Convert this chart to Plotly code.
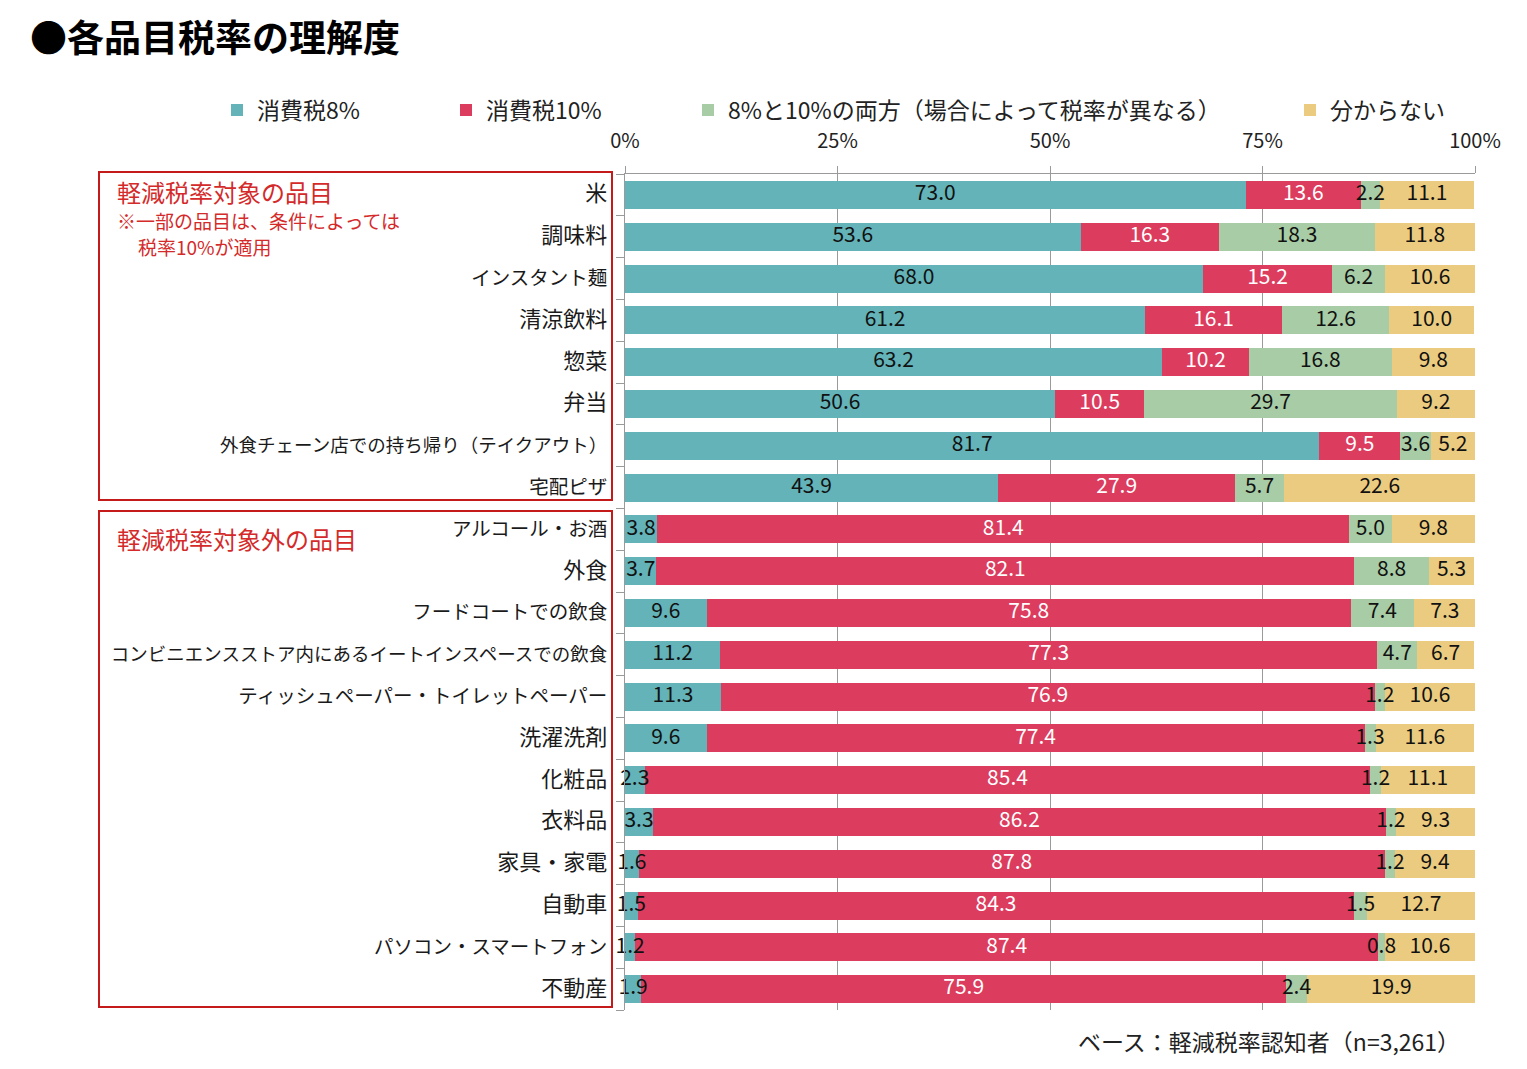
import plotly.graph_objects as go

categories = [
    "米", "調味料", "インスタント麺", "清涼飲料", "惣菜", "弁当",
    "外食チェーン店での持ち帰り（テイクアウト）", "宅配ピザ",
    "アルコール・お酒", "外食", "フードコートでの飲食",
    "コンビニエンスストア内にあるイートインスペースでの飲食",
    "ティッシュペーパー・トイレットペーパー", "洗濯洗剤", "化粧品", "衣料品",
    "家具・家電", "自動車", "パソコン・スマートフォン", "不動産",
]
tax8 = [73.0, 53.6, 68.0, 61.2, 63.2, 50.6, 81.7, 43.9, 3.8, 3.7, 9.6, 11.2, 11.3, 9.6, 2.3, 3.3, 1.6, 1.5, 1.2, 1.9]
tax10 = [13.6, 16.3, 15.2, 16.1, 10.2, 10.5, 9.5, 27.9, 81.4, 82.1, 75.8, 77.3, 76.9, 77.4, 85.4, 86.2, 87.8, 84.3, 87.4, 75.9]
both = [2.2, 18.3, 6.2, 12.6, 16.8, 29.7, 3.6, 5.7, 5.0, 8.8, 7.4, 4.7, 1.2, 1.3, 1.2, 1.2, 1.2, 1.5, 0.8, 2.4]
unknown = [11.1, 11.8, 10.6, 10.0, 9.8, 9.2, 5.2, 22.6, 9.8, 5.3, 7.3, 6.7, 10.6, 11.6, 11.1, 9.3, 9.4, 12.7, 10.6, 19.9]

series_names = ["消費税8%", "消費税10%", "8%と10%の両方（場合によって税率が異なる）", "分からない"]
series_values = [tax8, tax10, both, unknown]
series_colors = ["#63B3B8", "#DC3C5E", "#A8CCA6", "#EBCB80"]
text_colors = ["#111111", "#FFFFFF", "#111111", "#111111"]
legend_ids = ["legend", "legend2", "legend3", "legend4"]
legend_px = [233, 462, 704, 1306]

W, H = 1527, 1069
L, R, T, B = 625, 52, 174, 59
PW, PH = W - L - R, H - T - B

def px_x(p):
    return (p - L) / PW

def px_y(p):
    return (H - B - p) / PH

FONT = "Noto Sans CJK JP"


def styled_label(label):
    # kanji-only labels render larger in the original (kana there are narrow)
    kanji_only = all(("\u4e00" <= ch <= "\u9fff") or ch == "・" for ch in label)
    if kanji_only:
        size = 22
    elif len(label) >= 20:
        size = 18.5
    else:
        size = 19.5
    return f'<span style="font-size:{size}px">{label}</span>'


fig = go.Figure()
for name, vals, col, lid in zip(series_names, series_values, series_colors, legend_ids):
    fig.add_trace(go.Bar(
        y=categories, x=vals, name=name, orientation="h",
        marker=dict(color=col, line=dict(width=0)),
        legend=lid, hoverinfo="x+y+name",
    ))

# value labels drawn above all bars, centred on each segment
base = [0.0] * len(categories)
for vals, tcol in zip(series_values, text_colors):
    centers = [b + v / 2 for b, v in zip(base, vals)]
    fig.add_trace(go.Scatter(
        y=categories, x=centers, mode="text",
        text=[f"{v:.1f}" for v in vals], textposition="middle center",
        textfont=dict(color=tcol, size=21, family=FONT),
        showlegend=False, hoverinfo="skip", cliponaxis=False,
    ))
    base = [b + v for b, v in zip(base, vals)]

legend_layout = {}
for lid, p in zip(legend_ids, legend_px):
    legend_layout[lid] = dict(
        orientation="h", x=px_x(p - 16), xanchor="left",
        y=px_y(110), yanchor="middle",
        font=dict(size=23, family=FONT, color="#222222"),
        bgcolor="rgba(0,0,0,0)", itemclick=False, itemdoubleclick=False,
    )

fig.update_layout(
    width=W, height=H,
    margin=dict(l=L, r=R, t=T, b=B),
    barmode="stack", bargap=0.33,
    plot_bgcolor="white", paper_bgcolor="white",
    font=dict(family=FONT, size=18, color="#222222"),
    showlegend=True,
    **legend_layout,
)

fig.update_xaxes(
    side="top", range=[0, 100], tickvals=[0, 25, 50, 75, 100],
    ticktext=["0%", "25%", "50%", "75%", "100%"],
    showgrid=True, gridcolor="#9A9A9A", gridwidth=1,
    showline=True, linecolor="#9A9A9A", linewidth=1,
    ticks="outside", ticklen=7, tickcolor="#9A9A9A",
    tickfont=dict(size=20, family=FONT, color="#222222"),
    ticklabelstandoff=10, zeroline=False, fixedrange=True,
)
fig.update_yaxes(
    range=[len(categories) - 0.5, -0.5], autorange=False,
    categoryorder="array", categoryarray=categories,
    tickvals=categories, ticktext=[styled_label(c) for c in categories],
    showline=True, linecolor="#9A9A9A", linewidth=1,
    ticks="outside", ticklen=8, tickcolor="#9A9A9A", tickson="boundaries",
    tickfont=dict(size=18.5, family=FONT, color="#1A1A1A"),
    ticklabelstandoff=13, showgrid=False, fixedrange=True,
)

RED_LINE = "#C51A1A"
RED_TEXT = "#D42A2A"
for (y0, y1) in [(172, 500), (511, 1007)]:
    fig.add_shape(type="rect", xref="paper", yref="paper",
                  x0=px_x(99), x1=px_x(612), y0=px_y(y1), y1=px_y(y0),
                  line=dict(color=RED_LINE, width=2), fillcolor="rgba(0,0,0,0)",
                  layer="above")

def add_text(text, x, y, size, color, xanchor="left", bold=False):
    fig.add_annotation(
        text=f"<b>{text}</b>" if bold else text,
        xref="paper", yref="paper", x=px_x(x), y=px_y(y),
        xanchor=xanchor, yanchor="middle", showarrow=False,
        font=dict(size=size, color=color, family=FONT),
    )

add_text("●各品目税率の理解度", 28, 36, 37, "#000000", bold=True)
add_text("軽減税率対象の品目", 115, 192, 24, RED_TEXT)
add_text("※一部の品目は、条件によっては", 115, 220, 19, RED_TEXT)
add_text("税率10%が適用", 136, 246, 19, RED_TEXT)
add_text("軽減税率対象外の品目", 115, 538, 24, RED_TEXT)
add_text("ベース：軽減税率認知者（n=3,261）", 1462, 1041, 23, "#222222", xanchor="right")

fig.write_html(
    "out.html",
    config={"displayModeBar": False},
    post_script="document.body.style.margin='0';document.body.style.overflow='hidden';",
)
